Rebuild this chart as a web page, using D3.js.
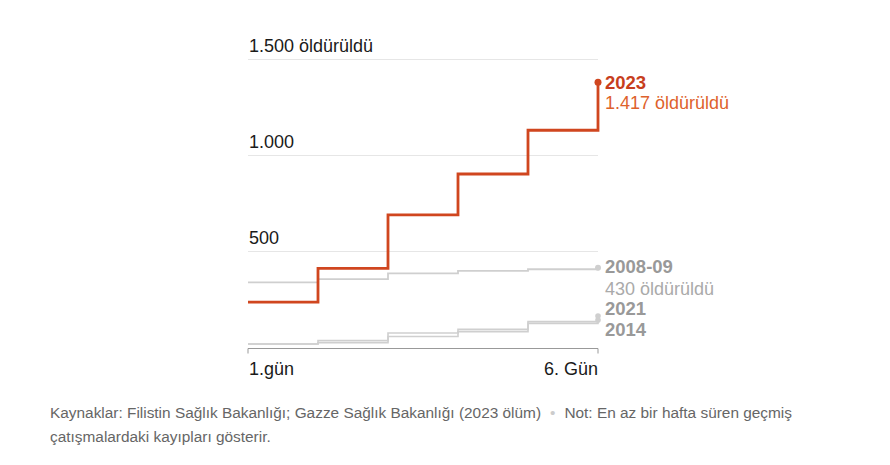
<!DOCTYPE html>
<html>
<head>
<meta charset="utf-8">
<script src="https://cdn.jsdelivr.net/npm/d3@7"></script>
<style>
  html, body { margin: 0; padding: 0; background: #fff; }
  svg { display: block; }
</style>
</head>
<body>
<svg id="chart" width="890" height="465"></svg>
<script>
// ---- data ----
const days = [1, 2, 3, 4, 5, 6];
const deaths2023 = [234, 410, 688, 901, 1129, 1379];
const deaths2008 = [337, 354, 383, 397, 405, 413];
const deaths2021 = [16, 33, 73, 92, 132, 161];
const deaths2014 = [16, 22, 55, 80, 123, 141];
const yTicks = [500, 1000, 1500];
const yTickLabels = ["500", "1.000", "1.500 öldürüldü"];
const xTickLabels = ["1.gün", "6. Gün"];
const seriesNames = ["2023", "2008-09", "2021", "2014"];
const seriesNotes = ["1.417 öldürüldü", "430 öldürüldü", "", ""];
const footerLine1a = "Kaynaklar: Filistin Sağlık Bakanlığı; Gazze Sağlık Bakanlığı (2023 ölüm)";
const footerLine1b = "Not: En az bir hafta süren geçmiş";
const footerLine2 = "çatışmalardaki kayıpları gösterir.";

const svg = d3.select("#chart");
const font = "'Liberation Sans', Arial, sans-serif";

const x = d3.scaleLinear().domain([1, 6]).range([248, 598]);
const y = d3.scaleLinear().domain([0, 1500]).range([347, 59]);

// gridlines
const grid = svg.append("g");
grid.selectAll("line").data(yTicks).join("line")
  .attr("x1", x(1)).attr("x2", x(6))
  .attr("y1", d => y(d) + 0.5).attr("y2", d => y(d) + 0.5)
  .attr("stroke", "#e6e6e6").attr("stroke-width", 1);
grid.selectAll("text").data(yTicks).join("text")
  .attr("x", x(1) + 1).attr("y", d => y(d) - 7)
  .attr("font-family", font).attr("font-size", 18).attr("fill", "#1a1a1a")
  .text((d, i) => yTickLabels[i]);

// x axis
const xAxis = d3.axisBottom(x).tickValues([1, 6]).tickSize(5).tickFormat("");
const gx = svg.append("g").attr("transform", "translate(0,348.5)").call(xAxis);
gx.select(".domain").attr("stroke", "#999").attr("d", `M${x(1)},5V0H${x(6)}V5`);
gx.selectAll(".tick line").remove();
svg.append("text").attr("x", x(1) + 1).attr("y", 375)
  .attr("font-family", font).attr("font-size", 18).attr("fill", "#1a1a1a")
  .text(xTickLabels[0]);
svg.append("text").attr("x", x(6)).attr("y", 375).attr("text-anchor", "end")
  .attr("font-family", font).attr("font-size", 18).attr("fill", "#1a1a1a")
  .text(xTickLabels[1]);

const line = d3.line().x((d, i) => x(days[i])).y(d => y(d)).curve(d3.curveStepAfter);

function drawSeries(vals, color, width, r) {
  svg.append("path").datum(vals).attr("d", line)
    .attr("fill", "none").attr("stroke", color).attr("stroke-width", width)
    .attr("stroke-linejoin", "miter");
  svg.append("circle").attr("cx", x(days[5])).attr("cy", y(vals[5])).attr("r", r)
    .attr("fill", color);
}
drawSeries(deaths2014, "#cfcfcf", 1.6, 2.8);
drawSeries(deaths2021, "#cfcfcf", 1.6, 2.8);
drawSeries(deaths2008, "#cfcfcf", 1.8, 3);
drawSeries(deaths2023, "#d0461f", 2.8, 3.5);

// right labels
const lx = 605;
function label(txt, yy, color, bold) {
  svg.append("text").attr("x", lx).attr("y", yy)
    .attr("font-family", font).attr("font-size", bold ? 18.5 : 18)
    .attr("font-weight", bold ? "bold" : "normal").attr("fill", color).text(txt);
}
label(seriesNames[0], 89, "#c73e1d", true);
label(seriesNotes[0], 109, "#de622c", false);
label(seriesNames[1], 273, "#999", true);
label(seriesNotes[1], 295, "#aaa", false);
label(seriesNames[2], 315, "#999", true);
label(seriesNames[3], 336, "#999", true);

// footer
const ff = svg.append("text").attr("x", 50).attr("y", 418)
  .attr("font-family", font).attr("font-size", 15.4).attr("fill", "#666");
ff.append("tspan").text(footerLine1a);
ff.append("tspan").attr("fill", "#ccc").attr("dx", 9).text("•");
ff.append("tspan").attr("dx", 9).text(footerLine1b);
svg.append("text").attr("x", 50).attr("y", 442)
  .attr("font-family", font).attr("font-size", 15.4).attr("fill", "#666")
  .text(footerLine2);
</script>
</body>
</html>
